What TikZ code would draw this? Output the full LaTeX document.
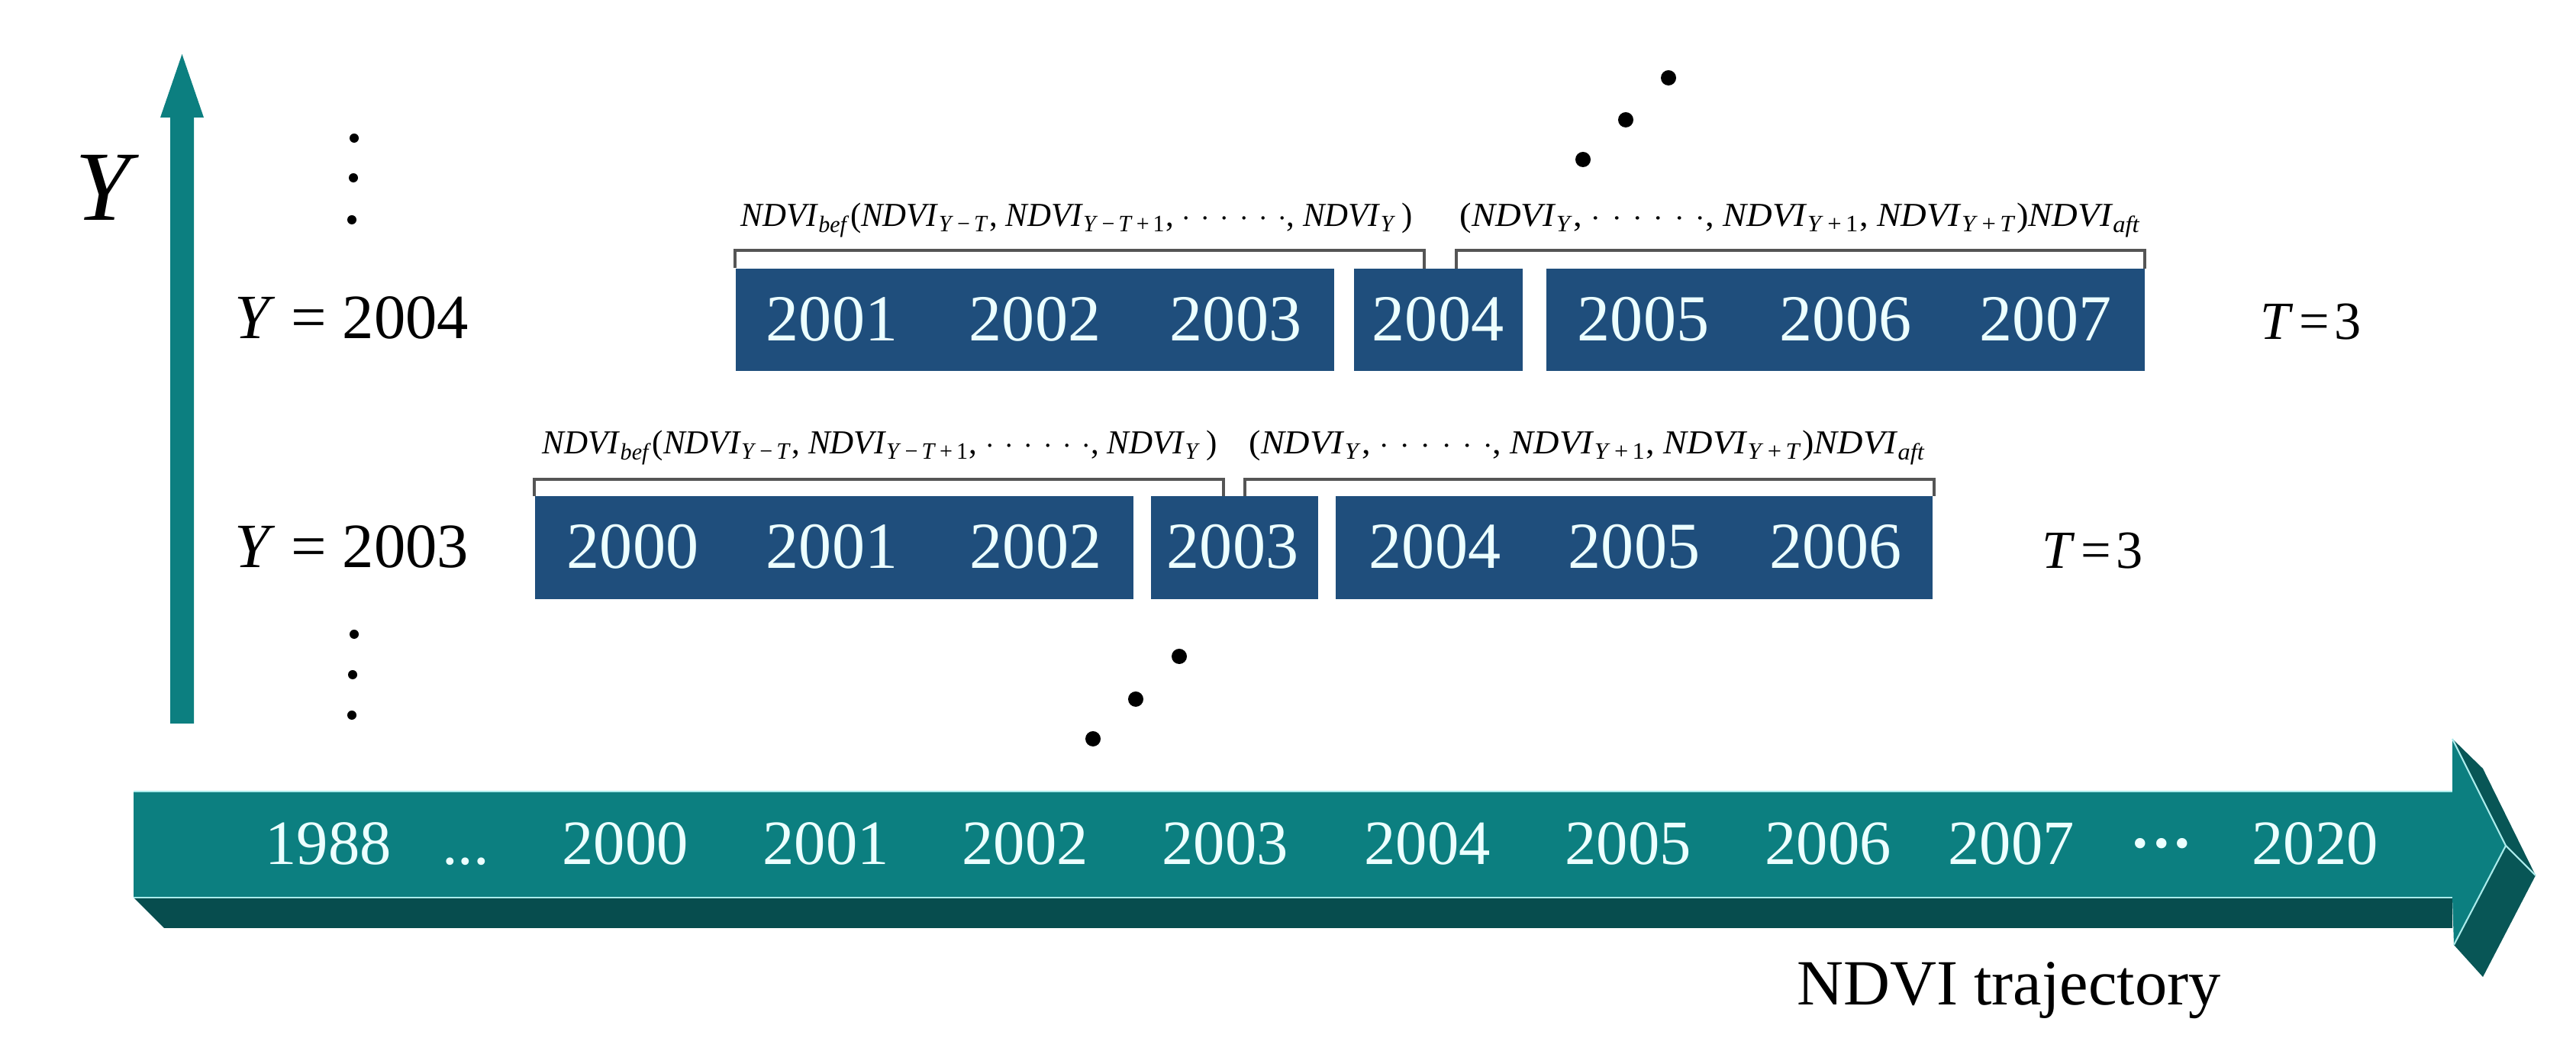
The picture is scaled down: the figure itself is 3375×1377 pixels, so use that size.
\documentclass[tikz,border=0pt]{standalone}
\usepackage{fontspec}
\setmainfont{Liberation Serif}
\usepackage{graphicx}
\definecolor{boxblue}{RGB}{31,78,124}
\definecolor{tealface}{RGB}{12,127,128}
\definecolor{tealdark}{RGB}{7,77,78}
\definecolor{tealside}{RGB}{8,86,86}
\definecolor{edgecyan}{RGB}{170,235,235}
\definecolor{yeartext}{RGB}{236,255,255}
\definecolor{brgray}{RGB}{85,85,85}
\newcommand{\ndvi}{\textit{NDVI}}
\newcommand{\sbs}[1]{\textsubscript{#1}}
\newcommand{\fdots}{\ensuremath{\cdotp\mkern3mu\cdotp\mkern3mu\cdotp\mkern3mu\cdotp\mkern3mu\cdotp\mkern3mu\cdotp}}
\begin{document}
\begin{tikzpicture}[x=0.01cm,y=-0.01cm,
  yrbox/.style={fill=boxblue, draw=none, inner sep=0pt, minimum height=1.34cm},
  boxyear/.style={text=yeartext, font=\fontsize{24.5}{26}\selectfont, anchor=base, inner sep=0pt},
  lineyear/.style={text=yeartext, font=\fontsize{23.5}{25}\selectfont, anchor=base, inner sep=0pt},
  ylabel/.style={font=\fontsize{23.5}{25}\selectfont, anchor=base west, inner sep=0pt},
  tlabel/.style={font=\fontsize{20}{22}\selectfont, anchor=base west, inner sep=0pt},
  formula/.style={font=\fontsize{12.5}{14}\selectfont, anchor=base west, inner sep=0pt},
  bracket/.style={draw=brgray, line width=1pt},
  edgeline/.style={draw=edgecyan, line width=0.6pt},
]
\useasboundingbox (0,0) rectangle (3375,1377);

% vertical Y arrow
\fill[tealface] (223,948) -- (223,154) -- (210,154) -- (238.5,71) -- (267,154) -- (254,154) -- (254,948) -- cycle;
\node[font=\fontsize{37}{40}\selectfont\itshape, anchor=base, inner sep=0pt] (bigY) at (135,289) {Y};

% vertical dots
\foreach \px/\py in {464/181, 463/233, 461/288, 464/831, 462/884, 461/937}
  \fill (\px,\py) circle (0.06cm);
% diagonal dots
\foreach \px/\py in {2074/209, 2130/157, 2186/102, 1432/968, 1488/916, 1545/860}
  \fill (\px,\py) circle (0.1cm);

% row labels
\node[ylabel] (y2004) at (307,444) {\textit{Y} = 2004};
\node[ylabel] (y2003) at (307,744) {\textit{Y} = 2003};
\node[tlabel] (t1) at (2961,445) {\textit{T}\kern2pt=\kern2pt3};
\node[tlabel] (t2) at (2675,745) {\textit{T}\kern2pt=\kern2pt3};

% row 1 boxes (Y = 2004)
\node[yrbox, minimum width=7.84cm] (r1A) at (1356,419) {};
\node[yrbox, minimum width=2.21cm] (r1B) at (1884.5,419) {};
\node[yrbox, minimum width=7.84cm] (r1C) at (2418,419) {};
\node[boxyear] (r1y2001) at (1090,447) {2001};
\node[boxyear] (r1y2002) at (1356,447) {2002};
\node[boxyear] (r1y2003) at (1619,447) {2003};
\node[boxyear] (r1y2004) at (1884,447) {2004};
\node[boxyear] (r1y2005) at (2153,447) {2005};
\node[boxyear] (r1y2006) at (2418,447) {2006};
\node[boxyear] (r1y2007) at (2680,447) {2007};

% row 2 boxes (Y = 2003)
\node[yrbox, minimum width=7.84cm] (r2A) at (1093,717.5) {};
\node[yrbox, minimum width=2.19cm] (r2B) at (1617.5,717.5) {};
\node[yrbox, minimum width=7.82cm] (r2C) at (2141,717.5) {};
\node[boxyear] (r2y2000) at (829,745) {2000};
\node[boxyear] (r2y2001) at (1090,745) {2001};
\node[boxyear] (r2y2002) at (1357,745) {2002};
\node[boxyear] (r2y2003) at (1615,745) {2003};
\node[boxyear] (r2y2004) at (1880,745) {2004};
\node[boxyear] (r2y2005) at (2141,745) {2005};
\node[boxyear] (r2y2006) at (2405,745) {2006};

% brackets
\draw[bracket] (r1A.north west) |- (1866,328) -- (1866,352);
\draw[bracket] (1908,352) |- (2810,328) -- (2810,352);
\draw[bracket] (r2A.north west) |- (1603,628) -- (1603,650);
\draw[bracket] (1631,650) |- (2534,628) -- (2534,650);

% formulas
\node[formula] (f1l) at (970,297) {\resizebox{8.8cm}{\height}{\ndvi\sbs{\textit{bef}}(\ndvi\sbs{\textit{Y}\,−\,\textit{T}}, \ndvi\sbs{\textit{Y}\,−\,\textit{T}\,+\,1}, \fdots, \ndvi\sbs{\textit{Y}}\,)}};
\node[formula] (f1r) at (1912,297) {\resizebox{8.92cm}{\height}{(\ndvi\sbs{\textit{Y}}, \fdots, \ndvi\sbs{\textit{Y}\,+\,1}, \ndvi\sbs{\textit{Y}\,+\,\textit{T}})\ndvi\sbs{\textit{aft}}}};
\node[formula] (f2l) at (710,595) {\resizebox{8.84cm}{\height}{\ndvi\sbs{\textit{bef}}(\ndvi\sbs{\textit{Y}\,−\,\textit{T}}, \ndvi\sbs{\textit{Y}\,−\,\textit{T}\,+\,1}, \fdots, \ndvi\sbs{\textit{Y}}\,)}};
\node[formula] (f2r) at (1636,595) {\resizebox{8.86cm}{\height}{(\ndvi\sbs{\textit{Y}}, \fdots, \ndvi\sbs{\textit{Y}\,+\,1}, \ndvi\sbs{\textit{Y}\,+\,\textit{T}})\ndvi\sbs{\textit{aft}}}};

% timeline arrow
\fill[tealdark] (175,1176) -- (3213,1176) -- (3213,1216) -- (215,1216) -- cycle;
\fill[tealside] (3213,968) -- (3253,1007) -- (3322,1147) -- (3253,1280) -- (3215,1238) -- (3283,1108) -- cycle;
\fill[tealface] (175,1037) -- (3213,1037) -- (3213,968) -- (3283,1108) -- (3215,1238) -- (3213,1176) -- (175,1176) -- cycle;
\draw[edgeline] (175,1037) -- (3213,1037);
\draw[edgeline] (175,1176) -- (3213,1176);
\draw[edgeline] (3213,968) -- (3283,1108) -- (3215,1238);
\draw[edgeline] (3283,1108) -- (3322,1147);

% timeline years
\node[lineyear] (tl1988) at (430,1133) {1988};
\node[lineyear] (tldots) at (610,1133) {...};
\node[lineyear] (tl2000) at (819,1133) {2000};
\node[lineyear] (tl2001) at (1082,1133) {2001};
\node[lineyear] (tl2002) at (1343,1133) {2002};
\node[lineyear] (tl2003) at (1605,1133) {2003};
\node[lineyear] (tl2004) at (1870,1133) {2004};
\node[lineyear] (tl2005) at (2133,1133) {2005};
\node[lineyear] (tl2006) at (2395,1133) {2006};
\node[lineyear] (tl2007) at (2635,1133) {2007};
\node[lineyear, font=\fontsize{23.5}{25}\selectfont\bfseries] (tlmid) at (2832,1133) {···};
\node[lineyear] (tl2020) at (3033,1133) {2020};

\node[font=\fontsize{24}{26}\selectfont, anchor=base, inner sep=0pt] (traj) at (2632,1317) {NDVI trajectory};
\end{tikzpicture}
\end{document}
